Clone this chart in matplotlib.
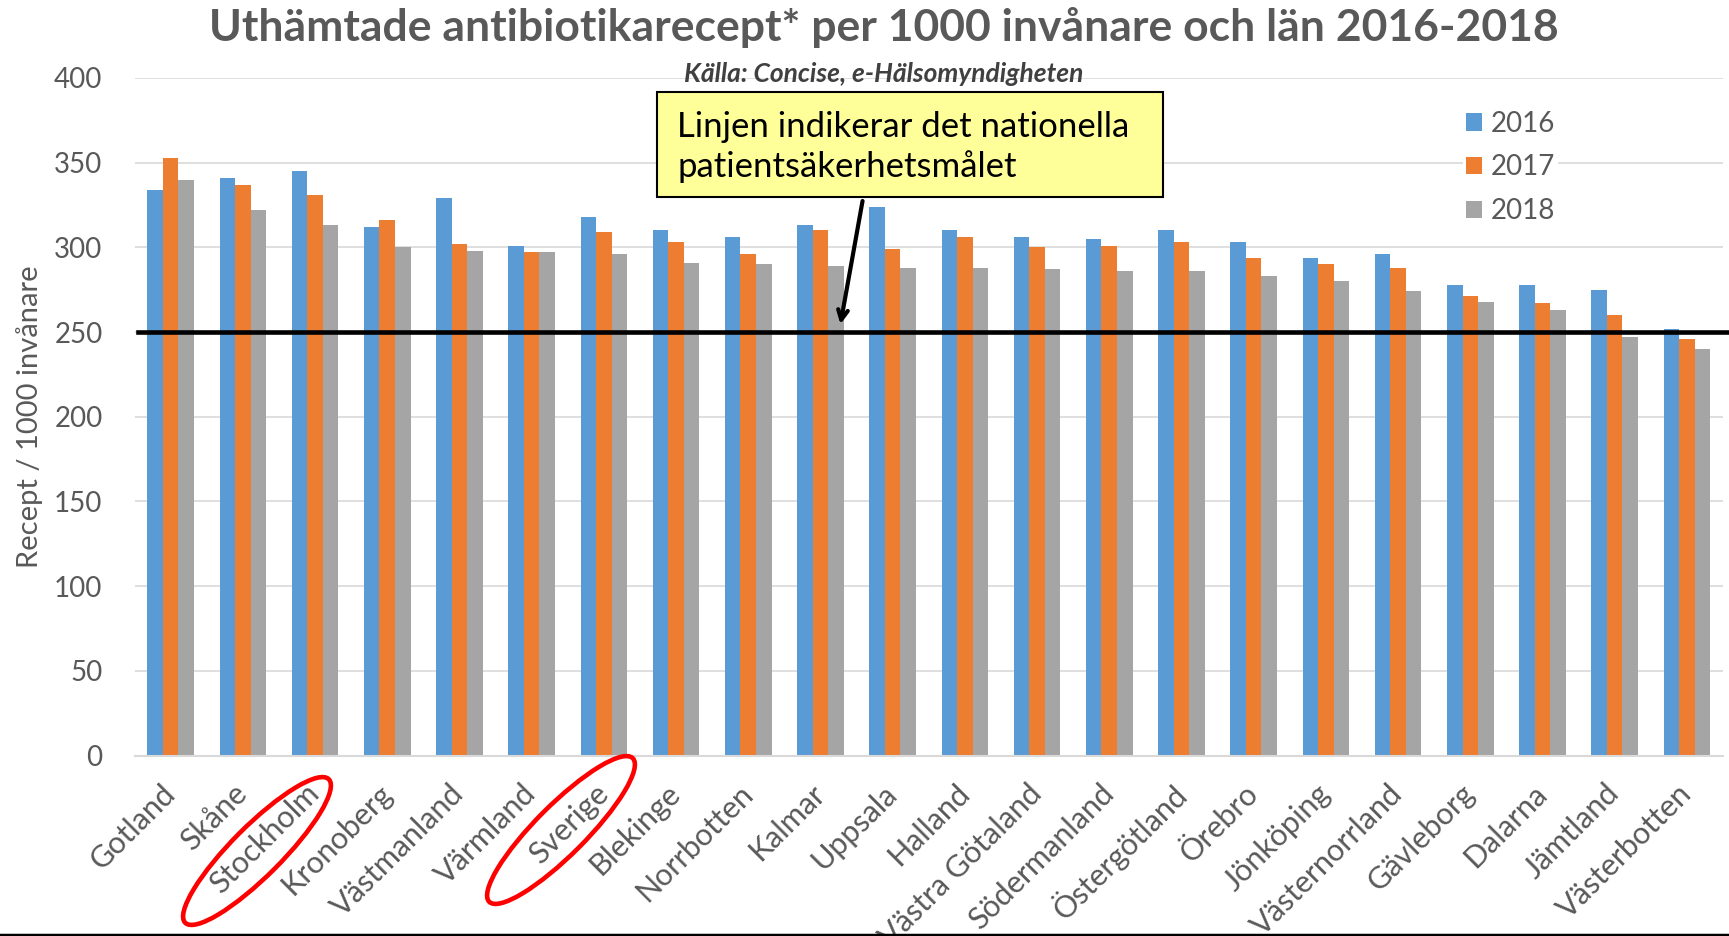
import numpy as np
import matplotlib.pyplot as plt
from matplotlib.patches import Ellipse, Rectangle
from matplotlib.transforms import IdentityTransform

plt.rcParams['font.family'] = ['Lato', 'DejaVu Sans']

# values
lan = ['Gotland', 'Skåne', 'Stockholm', 'Kronoberg', 'Västmanland', 'Värmland',
       'Sverige', 'Blekinge', 'Norrbotten', 'Kalmar', 'Uppsala', 'Halland',
       'Västra Götaland', 'Södermanland', 'Östergötland', 'Örebro', 'Jönköping',
       'Västernorrland', 'Gävleborg', 'Dalarna', 'Jämtland', 'Västerbotten']
v2016 = [334, 341, 345, 312, 329, 301, 318, 310, 306, 313, 324, 310,
         306, 305, 310, 303, 294, 296, 278, 278, 275, 252]
v2017 = [353, 337, 331, 316, 302, 297, 309, 303, 296, 310, 299, 306,
         300, 301, 303, 294, 290, 288, 271, 267, 260, 246]
v2018 = [340, 322, 313, 300, 298, 297, 296, 291, 290, 289, 288, 288,
         287, 286, 286, 283, 280, 274, 268, 263, 247, 240]
years = ['2016', '2017', '2018']
colors = ['#5B9BD5', '#ED7D31', '#A5A5A5']
target = 250

W, H = 1729, 936
fig = plt.figure(figsize=(W / 100, H / 100), dpi=100)
ax = fig.add_axes([134.5 / W, 1 - 755.5 / H, (1723 - 134.5) / W, (755.5 - 78) / H])

x = np.arange(len(lan))
bw = 0.215
for i, (vals, yr, c) in enumerate(zip([v2016, v2017, v2018], years, colors)):
    ax.bar(x + (i - 1) * bw, vals, bw, color=c, label=yr, zorder=2)

ax.set_xlim(-0.5, len(lan) - 0.5)
ax.set_ylim(0, 400)
ax.set_yticks(range(0, 401, 50))
ax.grid(axis='y', color='#D9D9D9', lw=1.2, zorder=0)
for s in ['left', 'right', 'top']:
    ax.spines[s].set_visible(False)
ax.spines['bottom'].set_color('#D9D9D9')
ax.spines['bottom'].set_linewidth(1.5)
ax.tick_params(length=0, colors='#595959', labelsize=20)
ax.tick_params(axis='y', pad=23)
ax.set_xticks(x)
ax.set_xticklabels(lan, rotation=45, ha='right', va='center', rotation_mode='anchor', fontsize=22)
ax.tick_params(axis='x', pad=24)

fig.text(30 / W, 1 - 417 / H, 'Recept / 1000 invånare', rotation=90, ha='center', va='center',
         fontsize=21, color='#595959')

# national target line
ax.plot([-0.45, len(lan) - 0.4], [target, target], color='black', lw=3.3, clip_on=False, zorder=4)

leg = ax.legend(loc='upper right', bbox_to_anchor=(1480 / W + 0.053, 1 - 94 / H), bbox_transform=fig.transFigure,
                frameon=True, facecolor='white', edgecolor='none', framealpha=1, fontsize=20,
                handlelength=0.6, handleheight=0.6, handletextpad=0.3, labelspacing=0.64,
                labelcolor='#595959', borderpad=0.1)
leg.set_zorder(3)

fig.text(884 / W, 1 - 28 / H, 'Uthämtade antibiotikarecept* per 1000 invånare och län 2016-2018',
         ha='center', va='center', fontsize=32, fontweight='bold', color='#595959')
fig.text(884 / W, 1 - 74 / H, 'Källa: Concise, e-Hälsomyndigheten', ha='center', va='center',
         fontsize=19, fontweight='bold', style='italic', color='#404040', zorder=5)

# yellow note box
fig.add_artist(Rectangle((657, H - 197), 1163 - 657, 197 - 92, facecolor='#FFFF99', edgecolor='black',
                         lw=1.5, transform=IdentityTransform(), zorder=5))
fig.text(677 / W, 1 - 147 / H, 'Linjen indikerar det nationella\npatientsäkerhetsmålet',
         ha='left', va='center', fontsize=25, color='black', linespacing=1.3, zorder=6)

ax.annotate('', xy=(9.27, 253), xytext=(9.59, 329),
            arrowprops=dict(arrowstyle='->,head_length=0.7,head_width=0.35', color='black', lw=3),
            zorder=6)

for cx, cy in [(257, 851), (561, 830)]:
    e = Ellipse((cx, H - cy), 203, 50, angle=45, fill=False, edgecolor='#FF0000', lw=3.3,
                transform=IdentityTransform())
    fig.add_artist(e)

fig.add_artist(plt.Line2D([0, 1], [1.5 / H, 1.5 / H], color='black', lw=2.5, transform=fig.transFigure))

fig.savefig('out.png', dpi=100)
